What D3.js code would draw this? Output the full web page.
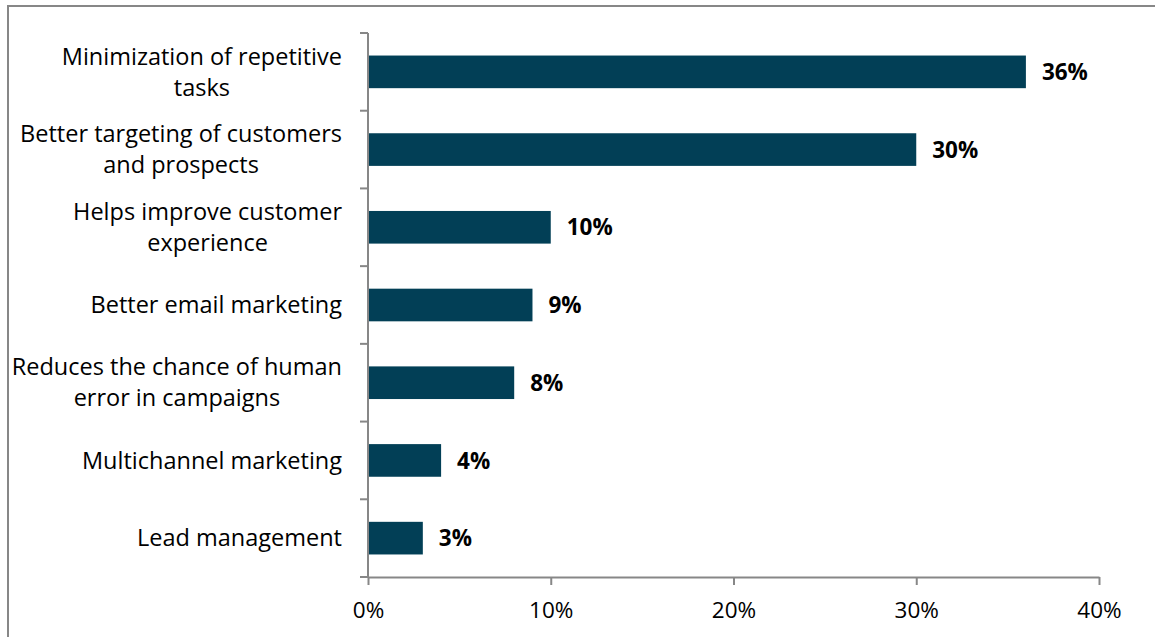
<!DOCTYPE html>
<html>
<head>
<meta charset="utf-8">
<script src="https://cdn.jsdelivr.net/npm/d3@7"></script>
<style>
  html, body { margin: 0; padding: 0; background: #fff; }
  svg { display: block; }
  text { font-family: "Open Sans", Lato, sans-serif; }
</style>
</head>
<body>
<svg id="chart" width="1155" height="637"></svg>
<script>
const categories = [
  "Minimization of repetitive\ntasks",
  "Better targeting of customers\nand prospects",
  "Helps improve customer\nexperience",
  "Better email marketing",
  "Reduces the chance of human\nerror in campaigns",
  "Multichannel marketing",
  "Lead management"
];
const values = [36, 30, 10, 9, 8, 4, 3];
const tickValues = [0, 10, 20, 30, 40];
const tickLabels = ["0%", "10%", "20%", "30%", "40%"];

const svg = d3.select("#chart");
const FONT = "'Open Sans', Lato, sans-serif";
const FS_CAT = 23.5;
const FS_VAL = 22.5;
const FS_TICK = 22.5;

// outer frame
svg.append("rect")
  .attr("x", 8).attr("y", 6)
  .attr("width", 1160).attr("height", 660)
  .attr("fill", "none").attr("stroke", "#878787").attr("stroke-width", 2);

const x = d3.scaleLinear().domain([0, 40]).range([368, 1099]);
const y = d3.scaleBand().domain(categories).range([33, 577]).paddingInner(0.58).paddingOuter(0.29);
const yTicks = d3.scaleBand().domain(categories).range([33, 577]);

const axisColor = "#878787";
const data = categories.map((c, i) => ({ c, v: values[i] }));

// bars
svg.append("g").selectAll("rect").data(data).join("rect")
  .attr("x", x(0))
  .attr("y", d => y(d.c))
  .attr("width", d => x(d.v) - x(0))
  .attr("height", y.bandwidth())
  .attr("fill", "#023f56");

// value labels
svg.append("g").selectAll("text").data(data).join("text")
  .attr("x", d => x(d.v) + 16)
  .attr("y", d => y(d.c) + y.bandwidth() / 2)
  .attr("dy", "0.36em")
  .attr("font-size", FS_VAL)
  .attr("font-weight", "bold")
  .attr("fill", "#000")
  .text(d => d.v + "%");

// y axis line + ticks
const gy = svg.append("g");
gy.append("line")
  .attr("x1", x(0)).attr("x2", x(0))
  .attr("y1", 33).attr("y2", 577)
  .attr("stroke", axisColor).attr("stroke-width", 2);
const yTickPos = categories.map(c => yTicks(c)).concat([577]);
gy.selectAll("line.tick").data(yTickPos).join("line")
  .attr("class", "tick")
  .attr("x1", x(0) - 8).attr("x2", x(0))
  .attr("y1", d => d).attr("y2", d => d)
  .attr("stroke", axisColor).attr("stroke-width", 2);

// category labels: lines centred on each other, block right-aligned at 342
const lineH = 31;
const labG = svg.append("g");
categories.forEach(c => {
  const lines = c.split("\n");
  const cy = yTicks(c) + yTicks.bandwidth() / 2;
  const t = labG.append("text")
    .attr("text-anchor", "middle")
    .attr("font-size", FS_CAT)
    .attr("fill", "#000");
  const spans = lines.map((ln, i) => t.append("tspan")
    .attr("y", cy + (i - (lines.length - 1) / 2) * lineH)
    .attr("dy", "0.35em")
    .text(ln));
  const maxW = d3.max(spans, s => s.node().getComputedTextLength());
  spans.forEach(s => s.attr("x", 342 - maxW / 2));
});

// x axis
const xAxis = d3.axisBottom(x).tickValues(tickValues)
  .tickFormat((d, i) => tickLabels[i]).tickSize(8).tickSizeOuter(0);
const gx = svg.append("g").attr("transform", "translate(0,577)").call(xAxis);
gx.select(".domain").attr("stroke", axisColor).attr("stroke-width", 2);
gx.selectAll(".tick line").attr("stroke", axisColor).attr("stroke-width", 2);
gx.selectAll(".tick text")
  .attr("font-family", FONT)
  .attr("font-size", FS_TICK).attr("fill", "#000").attr("dy", null).attr("y", 41);
</script>
</body>
</html>
